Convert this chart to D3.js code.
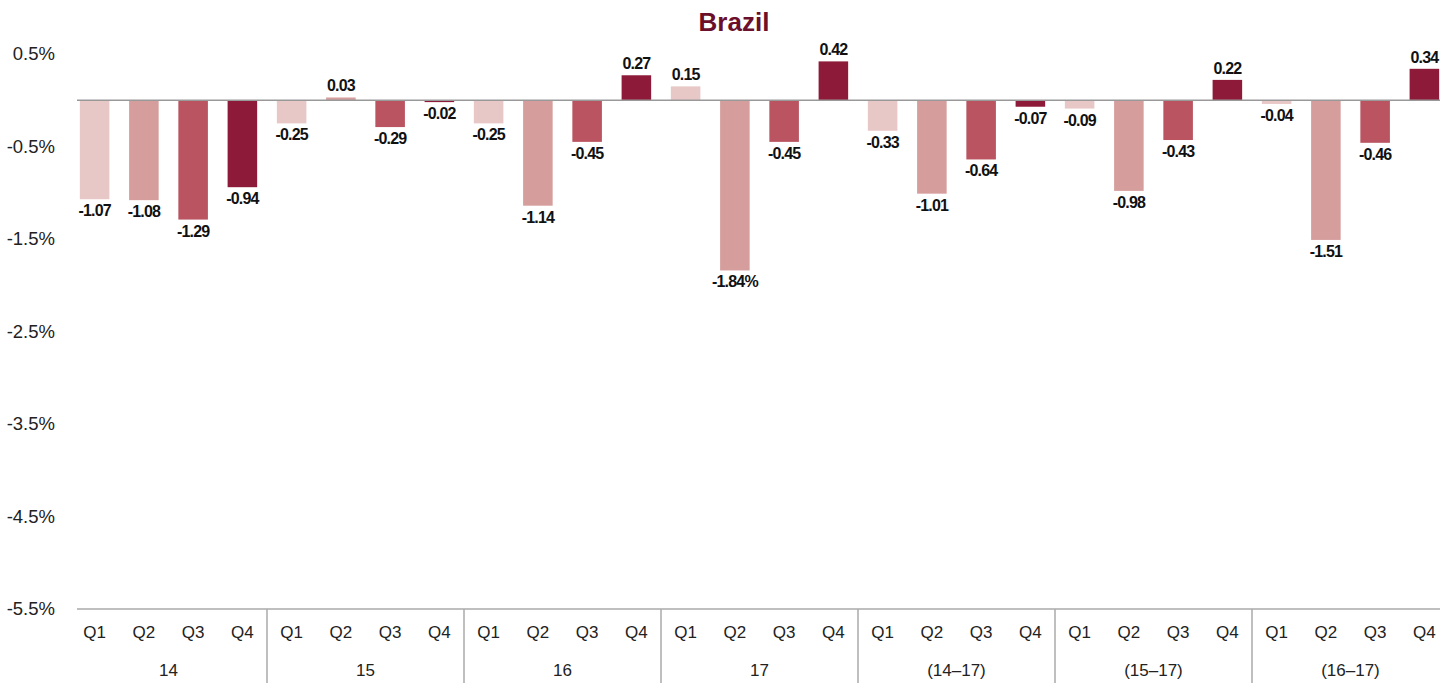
<!DOCTYPE html>
<html lang="en">
<head>
  <meta charset="UTF-8"/>
  <title>Brazil</title>
  <script src="https://d3js.org/d3.v7.min.js"></script>
  <style>
    body { margin:0; background:#fff; font-family:"Liberation Sans",Arial,sans-serif; }
    svg { display:block; }
    .ytick { font-size:18.5px; fill:#222; }
    .qlab { font-size:17px; fill:#222; }
    .glab { font-size:17px; fill:#222; }
    .val { font-size:16px; font-weight:bold; fill:#111; letter-spacing:-0.8px; }
  </style>
</head>
<body>
<svg width="1440" height="683"></svg>
<script>
  // groups and quarters
  const groups   = ['14','15','16','17','(14–17)','(15–17)','(16–17)'];
  const quarters = ['Q1','Q2','Q3','Q4'];
  // values per quarter, one per group (percent)
  const q1 = [-1.07, -0.25, -0.25,  0.15, -0.33, -0.09, -0.04];
  const q2 = [-1.08,  0.03, -1.14, -1.84, -1.01, -0.98, -1.51];
  const q3 = [-1.29, -0.29, -0.45, -0.45, -0.64, -0.43, -0.46];
  const q4 = [-0.94, -0.02,  0.27,  0.42, -0.07,  0.22,  0.34];
  const yTicks = [0.5, -0.5, -1.5, -2.5, -3.5, -4.5, -5.5];
  const colors = ['#e8c8c7','#d59e9c','#b95460','#8c1a38'];

  const series = [q1,q2,q3,q4];
  const rows = [];
  groups.forEach((g,gi)=>{
    quarters.forEach((q,qi)=>{
      rows.push({key:g+'|'+q, group:g, q, qi, v:series[qi][gi]});
    });
  });

  const svg = d3.select('svg');
  const x = d3.scaleBand().domain(rows.map(d=>d.key)).range([70,1449]).paddingInner(0.4).paddingOuter(0.2);
  const gx = d3.scaleBand().domain(groups).range([70,1449]);
  const y = d3.scaleLinear().domain([-5.5,0.5]).range([609,54]);

  // title
  svg.append('text').attr('x',734).attr('y',31).attr('text-anchor','middle')
    .attr('font-size',26).attr('font-weight','bold').attr('fill','#6b0f2a').text('Brazil');

  // y tick labels
  svg.selectAll('.ytick').data(yTicks).join('text')
    .attr('class','ytick').attr('x',55).attr('y',d=>y(d)).attr('dy','0.35em')
    .attr('text-anchor','end').text(d=>d.toFixed(1)+'%');

  // bars
  svg.selectAll('.bar').data(rows).join('rect')
    .attr('class','bar')
    .attr('x',d=>x(d.key)).attr('width',x.bandwidth())
    .attr('y',d=>y(Math.max(0,d.v))).attr('height',d=>Math.abs(y(d.v)-y(0)))
    .attr('fill',d=>colors[d.qi]);

  // zero line
  svg.append('line').attr('x1',77).attr('x2',1440).attr('y1',y(0)).attr('y2',y(0))
    .attr('stroke','#999').attr('stroke-width',1.5);

  // value labels
  svg.selectAll('.val').data(rows).join('text')
    .attr('class','val').attr('text-anchor','middle')
    .attr('x',d=>x(d.key)+x.bandwidth()/2)
    .attr('y',d=> d.v>=0 ? y(d.v)-6 : y(d.v)+17)
    .text(d=>{
      const s = d.v.toFixed(2);
      return d.key==='17|Q2' ? s+'%' : s;
    });

  // bottom axis line
  svg.append('line').attr('x1',77).attr('x2',1440).attr('y1',y(-5.5)).attr('y2',y(-5.5))
    .attr('stroke','#aaa').attr('stroke-width',1.5);

  // group separators
  svg.selectAll('.sep').data(groups.slice(1)).join('line')
    .attr('class','sep').attr('x1',d=>gx(d)).attr('x2',d=>gx(d))
    .attr('y1',y(-5.5)).attr('y2',683).attr('stroke','#aaa').attr('stroke-width',1.5);

  // quarter labels
  svg.selectAll('.qlab').data(rows).join('text')
    .attr('class','qlab').attr('text-anchor','middle')
    .attr('x',d=>x(d.key)+x.bandwidth()/2).attr('y',638).text(d=>d.q);

  // group labels
  svg.selectAll('.glab').data(groups).join('text')
    .attr('class','glab').attr('text-anchor','middle')
    .attr('x',d=>gx(d)+gx.bandwidth()/2).attr('y',676).text(d=>d);
</script>
</body>
</html>
